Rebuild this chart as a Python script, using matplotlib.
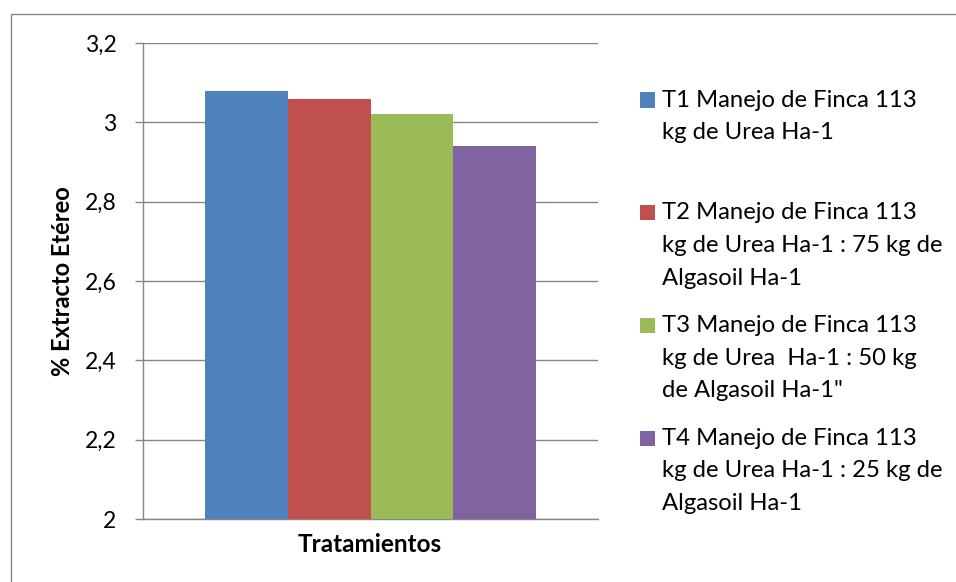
import matplotlib.pyplot as plt
from matplotlib.patches import Rectangle
from matplotlib.ticker import FuncFormatter


# ======================================
# DATA
# ======================================

treatments = [
    "T1 Manejo de Finca 113\nkg de Urea Ha-1",
    "T2 Manejo de Finca 113\nkg de Urea Ha-1 : 75 kg de\nAlgasoil Ha-1",
    "T3 Manejo de Finca 113\nkg de Urea  Ha-1 : 50 kg\nde Algasoil Ha-1\"",
    "T4 Manejo de Finca 113\nkg de Urea Ha-1 : 25 kg de\nAlgasoil Ha-1",
]

extracto_etereo = [3.08, 3.06, 3.02, 2.94]

colors = ["#4F81BD", "#C0504D", "#9BBB59", "#8064A2"]

y_ticks = [2.0, 2.2, 2.4, 2.6, 2.8, 3.0, 3.2]


# ======================================
# FIGURE
# ======================================

plt.rcParams["font.family"] = ["Lato", "DejaVu Sans"]

W, H = 956, 582
fig = plt.figure(figsize=(W / 100, H / 100), dpi=100)

# outer chart border
fig.patches.append(Rectangle(
    (11 / W, -0.1), 1.2, (H - 14) / H + 0.1,
    transform=fig.transFigure, fill=False,
    edgecolor="#868686", linewidth=1
))

ax = fig.add_axes([143 / W, 1 - 519 / H, (598 - 143) / W, (519 - 43) / H])

grid_color = "#868686"

ax.bar(
    range(len(extracto_etereo)),
    extracto_etereo,
    width=1.0,
    color=colors,
    zorder=3
)

ax.set_xlim(-1.25, len(extracto_etereo) - 1 + 1.25)
ax.set_ylim(2.0, 3.2)
ax.set_yticks(y_ticks)
ax.yaxis.set_major_formatter(
    FuncFormatter(lambda v, p: ("%g" % round(v, 1)).replace(".", ","))
)

ax.set_xticks([])
ax.tick_params(axis="y", length=6, width=1, color=grid_color,
               labelsize=16.5, pad=13)

ax.grid(axis="y", color=grid_color, linewidth=1, zorder=0)

for side in ["top", "right"]:
    ax.spines[side].set_visible(False)
for side in ["left", "bottom"]:
    ax.spines[side].set_color(grid_color)
    ax.spines[side].set_linewidth(1)

# axis titles
fig.text(370 / W, 1 - 544 / H, "Tratamientos",
         ha="center", va="center", fontsize=17.5, fontweight="bold")
fig.text(62 / W, 1 - 281 / H, "% Extracto Etéreo",
         ha="center", va="center", rotation=90,
         fontsize=17, fontweight="bold")


# ======================================
# LEGEND
# ======================================

entry_top = 100
entry_step = 112.7
line_step = 32.7

for i, (label, color) in enumerate(zip(treatments, colors)):
    y0 = entry_top + i * entry_step
    fig.patches.append(Rectangle(
        (640 / W, 1 - (y0 + 7.5) / H), 15 / W, 15 / H,
        transform=fig.transFigure, facecolor=color, edgecolor="none"
    ))
    for j, line in enumerate(label.split("\n")):
        fig.text(662 / W, 1 - (y0 + j * line_step) / H, line,
                 ha="left", va="center", fontsize=17.2)

plt.savefig("out.png", dpi=100)
